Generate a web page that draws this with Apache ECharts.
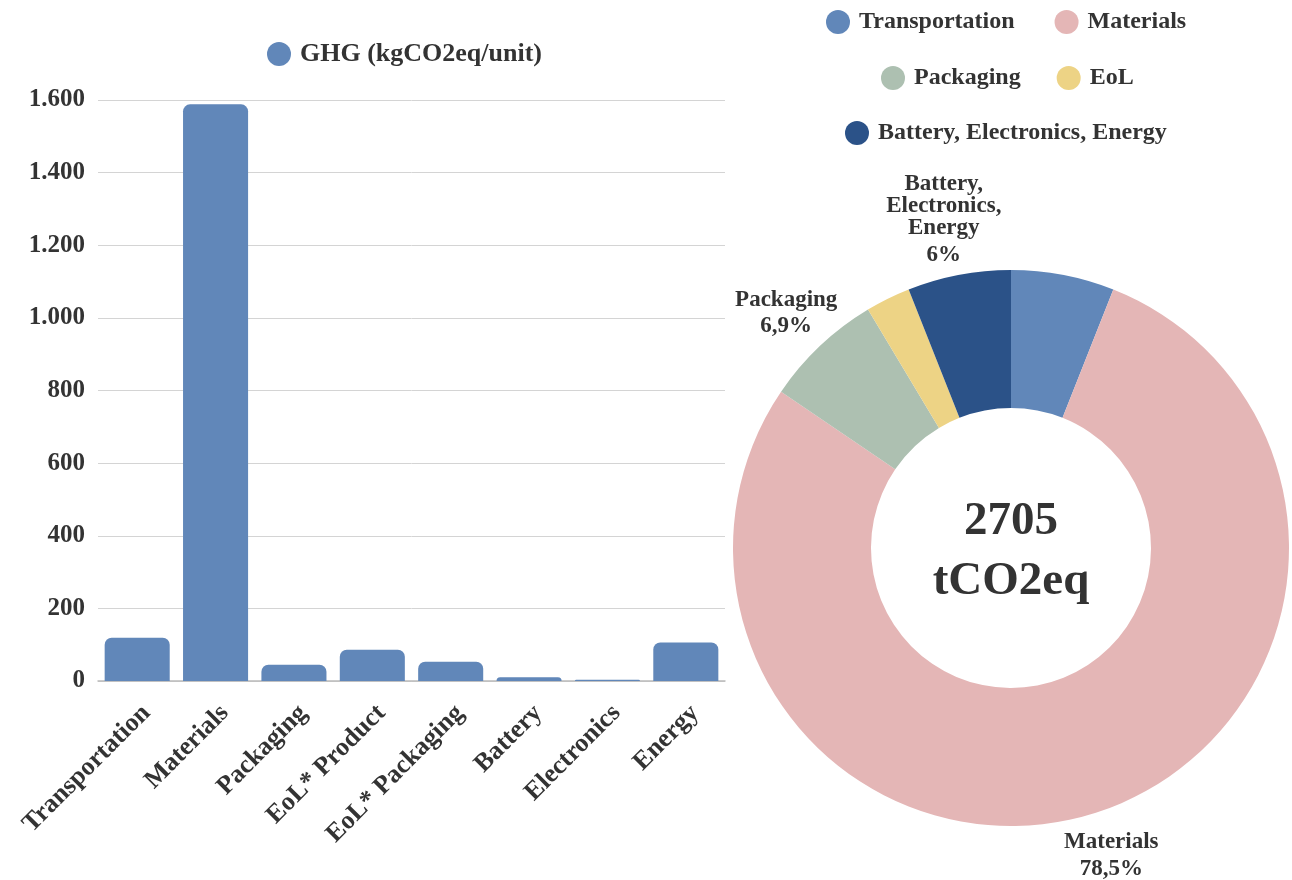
<!DOCTYPE html>
<html>
<head>
<meta charset="utf-8">
<script src="https://cdn.jsdelivr.net/npm/echarts@6/dist/echarts.min.js"></script>
<style>
html,body{margin:0;padding:0;background:#fff;}
#c{width:1292px;height:880px;}
</style>
</head>
<body>
<div id="c"></div>
<script>
const barCategories = ['Transportation','Materials','Packaging','EoL* Product','EoL* Packaging','Battery','Electronics','Energy'];
const barValues = [119, 1588, 45, 86, 53, 10, 3.7, 106];
const barSeriesName = 'GHG (kgCO2eq/unit)';
const pieNames = ['Transportation','Materials','Packaging','EoL','Battery, Electronics, Energy'];
const pieValues = [6.0, 78.5, 6.9, 2.6, 6.0];
const pieLabelShown = [false, true, true, false, true];
const pieLabelText = ['Transportation','Materials','Packaging','EoL','Battery,\nElectronics,\nEnergy'];
const centerText = ['2705','tCO2eq'];

const FONT = 'Liberation Serif';
const TXT = '#333333';
const barColor = '#6187b9';
const pieColors = ['#6187b9','#e4b6b6','#adc0b1','#edd385','#2b5288'];
const pieLabelLineLen = [42, 46, 42, 42, 54];

const chart = echarts.init(document.getElementById('c'));
const legendText = {fontFamily: FONT, fontWeight: 'bold', fontSize: 24, color: TXT, padding:[0,0,0,4]};
const option = {
  animation: false,
  textStyle: {fontFamily: FONT},
  legend: [
    {data:[barSeriesName], left: 262, top: 36, icon:'circle', itemWidth:24, itemHeight:24,
      textStyle: Object.assign({}, legendText, {fontSize: 26})},
    {data:['Transportation','Materials'], top: 5, icon:'circle', itemWidth:24, itemHeight:24, itemGap:40, textStyle: legendText, left: 821},
    {data:['Packaging','EoL'], top: 61, icon:'circle', itemWidth:24, itemHeight:24, itemGap:36, textStyle: legendText, left: 876},
    {data:['Battery, Electronics, Energy'], top: 116, icon:'circle', itemWidth:24, itemHeight:24, textStyle: legendText, left: 840}
  ],
  title: {
    text: centerText.join('\n'),
    left: 1006, top: 487, textAlign: 'center',
    textStyle: {fontFamily: FONT, fontWeight: 'bold', fontSize: 47, lineHeight: 60, color: TXT}
  },
  grid: {left: 98, right: 567, top: 100, bottom: 199, containLabel: false},
  xAxis: {
    type: 'category', data: barCategories,
    axisTick: {show:false},
    axisLine: {lineStyle: {color:'#bbbbbb', width:1.5}},
    axisLabel: {interval:0, rotate:45, fontFamily: FONT, fontWeight:'bold', fontSize: 26, color: TXT,
      margin: 19, verticalAlign: 'top'}
  },
  yAxis: {
    type: 'value', min: 0, max: 1600, interval: 200,
    axisLine: {show:false}, axisTick:{show:false},
    splitLine: {lineStyle: {color:'#d4d4d4', width:1}},
    axisLabel: {fontFamily: FONT, fontWeight:'bold', fontSize: 25, color: TXT, margin: 13,
      formatter: v => String(v).replace(/\B(?=(\d{3})+(?!\d))/g, '.')}
  },
  series: [
    {
      name: barSeriesName, type: 'bar', data: barValues,
      barCategoryGap: '17%',
      itemStyle: {color: barColor, borderRadius: [7,7,0,0]}
    },
    {
      name: 'GHG share', type: 'pie',
      center: [1011, 548], radius: [140, 278],
      startAngle: 90, clockwise: true,
      color: pieColors,
      avoidLabelOverlap: false,
      data: pieNames.map((n,i)=>({
        name: n, value: pieValues[i],
        label: {show: pieLabelShown[i]},
        labelLine: {length: pieLabelLineLen[i]}
      })),
      label: {
        position: 'outside',
        formatter: p => '{n|' + pieLabelText[p.dataIndex].split('\n').join('}\n{n|') + '}\n{p|' +
          String(p.value).replace('.', ',') + '%}',
        rich: {
          n: {fontFamily: FONT, fontWeight:'bold', fontSize: 23, lineHeight: 22, color: TXT},
          p: {fontFamily: FONT, fontWeight:'bold', fontSize: 23, lineHeight: 31, color: TXT}
        }
      },
      labelLine: {show:false, length: 42, length2: 0},
      labelLayout: {align: 'center', verticalAlign: 'middle'},
      emphasis: {disabled: true}
    }
  ]
};
chart.setOption(option);
</script>
</body>
</html>
